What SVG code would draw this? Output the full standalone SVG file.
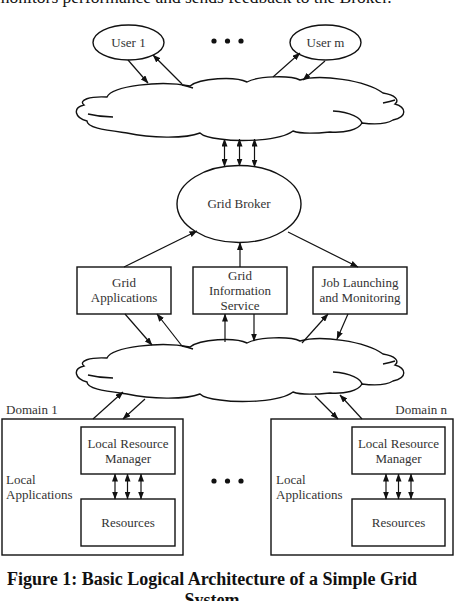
<svg xmlns="http://www.w3.org/2000/svg" xmlns:xlink="http://www.w3.org/1999/xlink" width="475" height="601" viewBox="0 0 475 601">
<style>
.shape{fill:#fff;stroke:#111;stroke-width:1.4}
.cl{fill:none;stroke:#111;stroke-width:1.4}
.ln{fill:none;stroke:#111;stroke-width:1.2}
.t{font-family:"Liberation Serif","Times New Roman",serif;font-size:13px;fill:#333;text-anchor:middle}
.tl{font-family:"Liberation Serif","Times New Roman",serif;font-size:13px;fill:#333}
.cap{font-family:"Liberation Serif","Times New Roman",serif;font-size:18px;font-weight:bold;fill:#111}
.top{font-family:"Liberation Serif","Times New Roman",serif;font-size:17.5px;fill:#111}
</style>
<defs>
<marker id="ah" markerUnits="userSpaceOnUse" markerWidth="8" markerHeight="6" refX="7.5" refY="3" orient="auto-start-reverse">
<path d="M0,0 L8,3 L0,6 Z" fill="#111"/>
</marker>
<g id="cloud">
<path class="shape" d="M107,97 C112,86 160,80 190,86 C200,78 235,76 247,82 C258,76 290,75 300,80 C320,74 365,80 383,93 C395,95 400,100 395,104 C406,107 408,117 393,120 C385,125 370,124 362,123 C358,130 345,133 330,132 C310,134 298,133 293,131 C280,141 240,142 220,139 C210,138 203,136 200,133 C185,139 150,138 127,133 C105,130 87,128 87,121 C75,118 72,108 84,105 C78,100 90,96 107,97 Z"/>
<path class="cl" d="M383,103 C388,102 392,101 395,100"/>
<path class="cl" d="M333,111 C350,112 362,118 362,124"/>
<path class="cl" d="M88,114 C96,116 105,117 113,117"/>
<path class="cl" d="M182,85 C187,86 190,87 193,88"/>
</g>
</defs>

<text class="top" x="-4" y="3">monitors performance and sends feedback to the Broker.</text>

<g id="user1"><ellipse class="shape" cx="128.5" cy="42.5" rx="35.5" ry="17.5"/><text class="t" x="128.5" y="47">User 1</text></g>
<g id="userm"><ellipse class="shape" cx="325.5" cy="42.5" rx="35.5" ry="17.5"/><text class="t" x="325.5" y="47">User m</text></g>
<g id="dots-top" fill="#111"><circle cx="214" cy="41" r="2.6"/><circle cx="227.5" cy="41" r="2.6"/><circle cx="241" cy="41" r="2.6"/></g>

<g id="cloud1"><use xlink:href="#cloud"/></g>
<g id="cloud2"><use xlink:href="#cloud" transform="translate(0,261)"/></g>

<g id="broker"><ellipse class="shape" cx="239" cy="204" rx="62" ry="38.5"/><text class="t" x="239" y="208">Grid Broker</text></g>

<g id="gridapps"><rect class="shape" x="77" y="267" width="94" height="47"/><text class="t" x="124" y="287">Grid</text><text class="t" x="124" y="302">Applications</text></g>
<g id="gis"><rect class="shape" x="193" y="267" width="94" height="47"/><text class="t" x="240" y="280">Grid</text><text class="t" x="240" y="295">Information</text><text class="t" x="240" y="310">Service</text></g>
<g id="joblaunch"><rect class="shape" x="313" y="267" width="94" height="47"/><text class="t" x="360" y="287">Job Launching</text><text class="t" x="360" y="302">and Monitoring</text></g>

<g id="domain1">
<rect class="shape" x="2" y="419" width="181" height="136"/>
<text class="tl" x="6" y="414">Domain 1</text>
<text class="tl" x="6" y="484">Local</text>
<text class="tl" x="6" y="499">Applications</text>
</g>
<g id="lrm1"><rect class="shape" x="81" y="427" width="94" height="47"/><text class="t" x="128" y="448">Local Resource</text><text class="t" x="128" y="463">Manager</text></g>
<g id="res1"><rect class="shape" x="81" y="499" width="94" height="47"/><text class="t" x="128" y="527">Resources</text></g>

<g id="domainn">
<rect class="shape" x="271" y="419" width="182" height="136"/>
<text class="tl" x="447" y="414" text-anchor="end">Domain n</text>
<text class="tl" x="276" y="484">Local</text>
<text class="tl" x="276" y="499">Applications</text>
</g>
<g id="lrmn"><rect class="shape" x="352" y="427" width="93" height="47"/><text class="t" x="398.5" y="448">Local Resource</text><text class="t" x="398.5" y="463">Manager</text></g>
<g id="resn"><rect class="shape" x="352" y="499" width="93" height="47"/><text class="t" x="398.5" y="527">Resources</text></g>

<g id="dots-mid" fill="#111"><circle cx="214" cy="481" r="2.6"/><circle cx="227.5" cy="481" r="2.6"/><circle cx="241" cy="481" r="2.6"/></g>

<g id="connectors" class="ln">
<line x1="128" y1="60" x2="148" y2="83" marker-end="url(#ah)"/>
<line x1="182" y1="84" x2="153" y2="55" marker-end="url(#ah)"/>
<line x1="273" y1="77" x2="300" y2="53" marker-end="url(#ah)"/>
<line x1="325" y1="61" x2="303" y2="80" marker-end="url(#ah)"/>
<line x1="224.5" y1="139" x2="224.5" y2="166.5" marker-start="url(#ah)" marker-end="url(#ah)"/>
<line x1="239.5" y1="139" x2="239.5" y2="166" marker-start="url(#ah)" marker-end="url(#ah)"/>
<line x1="254.5" y1="139" x2="254.5" y2="167" marker-start="url(#ah)" marker-end="url(#ah)"/>
<line x1="124" y1="267" x2="197" y2="231" marker-end="url(#ah)"/>
<line x1="240" y1="267" x2="240" y2="242.5" marker-end="url(#ah)"/>
<line x1="288" y1="232" x2="358" y2="267" marker-end="url(#ah)"/>
<line x1="125" y1="314" x2="152" y2="345" marker-end="url(#ah)"/>
<line x1="182" y1="346" x2="157" y2="314" marker-end="url(#ah)"/>
<line x1="225" y1="342" x2="225" y2="314" marker-end="url(#ah)"/>
<line x1="254" y1="314" x2="254" y2="341" marker-end="url(#ah)"/>
<line x1="302" y1="343" x2="328" y2="314" marker-end="url(#ah)"/>
<line x1="348" y1="314" x2="337" y2="339" marker-end="url(#ah)"/>
<line x1="93" y1="419" x2="123" y2="392" marker-end="url(#ah)"/>
<line x1="145" y1="399" x2="123" y2="419" marker-end="url(#ah)"/>
<line x1="315" y1="396" x2="338" y2="419" marker-end="url(#ah)"/>
<line x1="362" y1="419" x2="340" y2="395" marker-end="url(#ah)"/>
<line x1="115" y1="474" x2="115" y2="499" marker-start="url(#ah)" marker-end="url(#ah)"/>
<line x1="127.5" y1="474" x2="127.5" y2="499" marker-start="url(#ah)" marker-end="url(#ah)"/>
<line x1="141" y1="474" x2="141" y2="499" marker-start="url(#ah)" marker-end="url(#ah)"/>
<line x1="386" y1="474" x2="386" y2="499" marker-start="url(#ah)" marker-end="url(#ah)"/>
<line x1="398.5" y1="474" x2="398.5" y2="499" marker-start="url(#ah)" marker-end="url(#ah)"/>
<line x1="411" y1="474" x2="411" y2="499" marker-start="url(#ah)" marker-end="url(#ah)"/>
</g>

<text class="cap" x="7" y="585">Figure 1: Basic Logical Architecture of a Simple Grid</text>
<text class="cap" x="212" y="606" text-anchor="middle">System</text>
</svg>
